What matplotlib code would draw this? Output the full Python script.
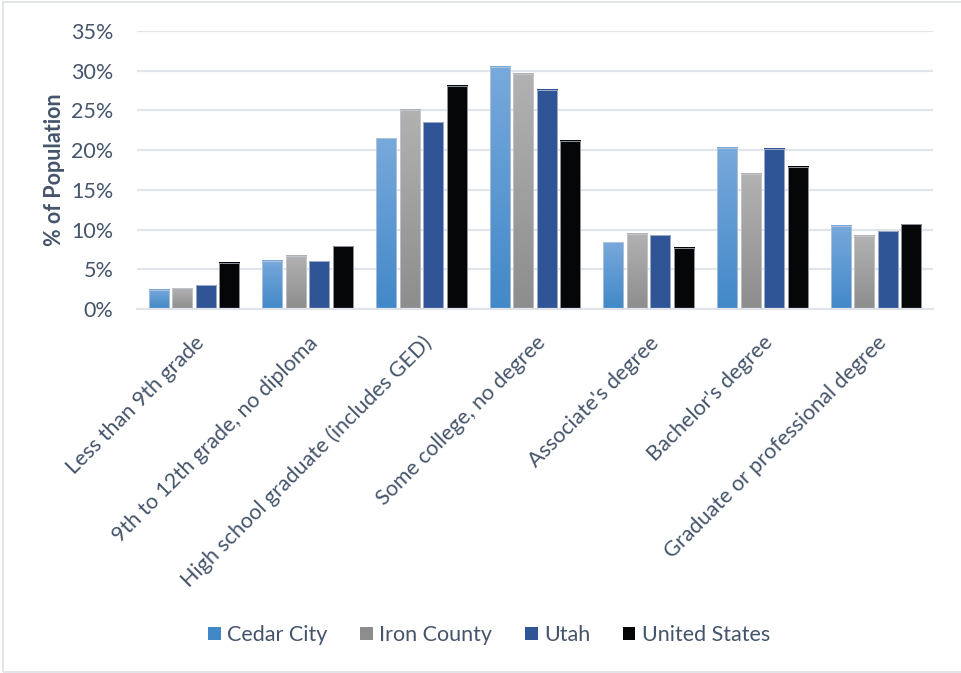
#!/usr/bin/env python3
"""Educational attainment by area: grouped bars with gradient fills."""

import matplotlib

matplotlib.use("Agg")
import matplotlib.pyplot as plt
import numpy as np
from matplotlib.colors import LinearSegmentedColormap
from matplotlib.patches import Rectangle
from matplotlib.ticker import FuncFormatter, MultipleLocator

CATEGORIES = [
    "Less than 9th grade",
    "9th to 12th grade, no diploma",
    "High school graduate (includes GED)",
    "Some college, no degree",
    "Associate's degree",
    "Bachelor's degree",
    "Graduate or professional degree",
]
SERIES = ["Cedar City", "Iron County", "Utah", "United States"]
CEDAR_CITY = [2.4, 6.1, 21.5, 30.5, 8.4, 20.3, 10.5]
IRON_COUNTY = [2.6, 6.7, 25.1, 29.6, 9.5, 17.0, 9.2]
UTAH = [3.0, 6.0, 23.5, 27.6, 9.3, 20.2, 9.8]
UNITED_STATES = [5.8, 7.9, 28.1, 21.2, 7.7, 17.9, 10.7]

TEXT = "#44546A"
GRID = "#E1E4EA"

# (top colour, bottom colour) for each series; equal pair = solid fill
FILLS = [
    ("#78A9DC", "#4288C8"),
    ("#B2B2B2", "#8D8D8D"),
    ("#2F5597", "#2F5597"),
    ("#050608", "#050608"),
]

plt.rcParams["font.family"] = ["Lato", "DejaVu Sans"]
FS = 15.5

fig = plt.figure(figsize=(9.61, 6.73), dpi=100)
ax = fig.add_axes([137 / 961, 1 - 309 / 673, 796 / 961, 278 / 673])

values = [CEDAR_CITY, IRON_COUNTY, UTAH, UNITED_STATES]
x = np.arange(len(CATEGORIES))
pitch = 0.207
width = 0.176
grad = np.linspace(1, 0, 256).reshape(-1, 1)

for i, (name, vals, (top, bottom)) in enumerate(zip(SERIES, values, FILLS)):
    offs = x + (i - 1.5) * pitch
    cmap = LinearSegmentedColormap.from_list(name, [bottom, top])
    bars = ax.bar(offs, vals, width=width, color=top, edgecolor="none",
                  label=name, zorder=2)
    for rect in bars:
        rect.set_facecolor("none")
        x0 = rect.get_x()
        h = rect.get_height()
        ax.imshow(grad, cmap=cmap, extent=[x0, x0 + width, 0, h],
                  aspect="auto", origin="upper", zorder=2,
                  interpolation="bilinear")
        ax.add_patch(Rectangle((x0, 0), width, h, fill=False,
                               edgecolor="#C9CED8", linewidth=0.5, zorder=3))

ax.set_xlim(-0.5, len(CATEGORIES) - 0.5)
ax.set_ylim(0, 35)
ax.yaxis.set_major_locator(MultipleLocator(5))
ax.yaxis.set_major_formatter(FuncFormatter(lambda v, _: f"{v:.0f}%"))
ax.grid(axis="y", color=GRID, linewidth=1.6, zorder=0)
ax.set_axisbelow(True)
for side in ("top", "right", "left"):
    ax.spines[side].set_visible(False)
ax.spines["bottom"].set_color(GRID)
ax.spines["bottom"].set_linewidth(1.6)
ax.tick_params(length=0, colors=TEXT, labelsize=FS)
ax.tick_params(axis="y", pad=17)

ax.set_xticks(x)
ax.set_xticklabels(CATEGORIES, rotation=45, ha="right",
                   rotation_mode="anchor")
ax.tick_params(axis="x", pad=17)

ax.set_ylabel("% of Population", color=TEXT, fontsize=15.5,
              fontweight="bold", labelpad=4)

# legend swatches
handles = [Rectangle((0, 0), 1, 1, facecolor=f[1] if i < 2 else f[0],
                     edgecolor="none") for i, f in enumerate(FILLS)]
leg = fig.legend(handles, SERIES, loc="center", ncol=4,
                 bbox_to_anchor=(489 / 961, 1 - 635 / 673), frameon=False,
                 fontsize=FS, handlelength=0.6, handleheight=0.6,
                 handletextpad=0.3, columnspacing=1.5)
for t in leg.get_texts():
    t.set_color(TEXT)

# thin chart-area border
fig.patches.append(Rectangle((3 / 961, 1 / 673), 1.0, 1 - 2.5 / 673,
                             transform=fig.transFigure, fill=False,
                             edgecolor="#DDE1E8", linewidth=1.2))

fig.savefig("out.png", dpi=100)
